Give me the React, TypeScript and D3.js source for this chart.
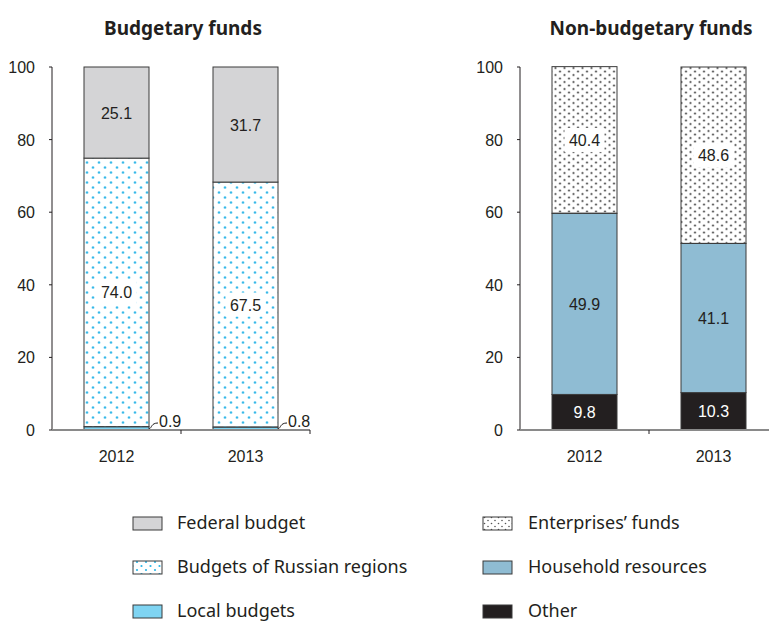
import React from "react";
import * as d3 from "d3";

const years = ["2012", "2013"];
const federal = [25.1, 31.7];
const regions = [74.0, 67.5];
const local = [0.9, 0.8];
const other = [9.8, 10.3];
const household = [49.9, 41.1];
const enterprises = [40.4, 48.6];
const yTicks = [0, 20, 40, 60, 80, 100];

const NUM_FONT = "'Liberation Sans', Arial, sans-serif";
const TXT_FONT = "'Noto Sans', 'Open Sans', sans-serif";

type Seg = { key: string; values: number[]; fill: string; label: "plain" | "box" | "white" | "leader" };

const leftSegs: Seg[] = [
  { key: "local", values: local, fill: "#7fd4f2", label: "leader" },
  { key: "regions", values: regions, fill: "url(#dotsBlue)", label: "box" },
  { key: "federal", values: federal, fill: "#d4d4d6", label: "plain" },
];
const rightSegs: Seg[] = [
  { key: "other", values: other, fill: "#231f20", label: "white" },
  { key: "household", values: household, fill: "#8fbcd3", label: "plain" },
  { key: "enterprises", values: enterprises, fill: "url(#dotsGray)", label: "box" },
];

function Panel({ x0, x1, title, segs }: { x0: number; x1: number; title: string; segs: Seg[] }) {
  const y = d3.scaleLinear().domain([0, 100]).range([430, 67]);
  const x = d3.scaleBand().domain(years).range([x0, x1]).paddingInner(0).paddingOuter(0);
  const bw = 65;
  const stack = d3.stack<any>().keys(segs.map((s) => s.key))(
    years.map((yr, i) => {
      const o: any = { year: yr };
      segs.forEach((s) => (o[s.key] = s.values[i]));
      return o;
    })
  );
  return (
    <g>
      <text x={(x0 + x1) / 2 + 2} y={35} textAnchor="middle" fontFamily={TXT_FONT} fontWeight="bold" fontSize={19} fill="#231f20">
        {title}
      </text>
      <line x1={x0} x2={x0} y1={y(100)} y2={y(0)} stroke="#231f20" strokeWidth={1} />
      {yTicks.map((t) => (
        <g key={t}>
          <line x1={x0 - 3} x2={x0} y1={y(t)} y2={y(t)} stroke="#231f20" />
          <text x={x0 - 17} y={y(t) + 6} textAnchor="end" fontFamily={NUM_FONT} fontSize={16} fill="#231f20">
            {t}
          </text>
        </g>
      ))}
      {stack.map((layer, li) =>
        layer.map((d, i) => {
          const cx = (x(years[i]) as number) + x.bandwidth() / 2;
          const top = y(d[1]);
          const h = y(d[0]) - y(d[1]);
          return (
            <rect key={segs[li].key + i} x={cx - bw / 2} y={top} width={bw} height={h} fill={segs[li].fill} stroke="#3a3a3a" strokeWidth={1} />
          );
        })
      )}
      {stack.map((layer, li) =>
        layer.map((d, i) => {
          const s = segs[li];
          const cx = (x(years[i]) as number) + x.bandwidth() / 2;
          const v = s.values[i].toFixed(1);
          if (s.label === "leader") {
            const bx = cx + bw / 2;
            return (
              <g key={"l" + s.key + i}>
                <path d={`M${bx},${y(0) - 1} C${bx + 3},${y(0) - 2} ${bx + 2},${y(0) - 7} ${bx + 9},${y(0) - 7}`} fill="none" stroke="#231f20" strokeWidth={1} />
                <text x={bx + 10} y={y(0) - 3} fontFamily={NUM_FONT} fontSize={16} fill="#231f20">
                  {v}
                </text>
              </g>
            );
          }
          const my = (y(d[0]) + y(d[1])) / 2;
          return (
            <g key={"l" + s.key + i}>
              {s.label === "box" && <rect x={cx - 20} y={my - 12} width={40} height={24} fill="#ffffff" />}
              <text x={cx} y={my + 6} textAnchor="middle" fontFamily={NUM_FONT} fontSize={16} fill={s.label === "white" ? "#ffffff" : "#231f20"}>
                {v}
              </text>
            </g>
          );
        })
      )}
      <line x1={x0} x2={x1} y1={y(0)} y2={y(0)} stroke="#8a8a8a" strokeWidth={2} />
      {years.map((yr) => (
        <g key={yr}>
          <line x1={(x(yr) as number) + x.bandwidth()} x2={(x(yr) as number) + x.bandwidth()} y1={y(0)} y2={y(0) + 4} stroke="#231f20" />
          <text x={(x(yr) as number) + x.bandwidth() / 2} y={462} textAnchor="middle" fontFamily={NUM_FONT} fontSize={16} fill="#231f20">
            {yr}
          </text>
        </g>
      ))}
    </g>
  );
}

const legendLeft = [
  { name: "Federal budget", fill: "#d4d4d6" },
  { name: "Budgets of Russian regions", fill: "url(#dotsBlueL)" },
  { name: "Local budgets", fill: "#7fd4f2" },
];
const legendRight = [
  { name: "Enterprises\u2019 funds", fill: "url(#dotsGrayL)" },
  { name: "Household resources", fill: "#8fbcd3" },
  { name: "Other", fill: "#231f20" },
];

export default function App() {
  return (
    <svg width={769} height={623} style={{ position: "absolute", left: 0, top: 0, background: "#fff" }}>
      <defs>
        <pattern id="dotsBlue" width={12} height={10} patternUnits="userSpaceOnUse">
          <circle cx={3} cy={2.5} r={1.6} fill="#a9e2f7" />
          <circle cx={9} cy={7.5} r={1.6} fill="#a9e2f7" />
          <circle cx={3} cy={2.5} r={0.9} fill="#1fb0e6" />
          <circle cx={9} cy={7.5} r={0.9} fill="#1fb0e6" />
        </pattern>
        <pattern id="dotsBlueL" width={9} height={8} patternUnits="userSpaceOnUse">
          <circle cx={2} cy={2} r={1.1} fill="#29b5e8" />
          <circle cx={6.5} cy={6} r={1.1} fill="#29b5e8" />
        </pattern>
        <pattern id="dotsGray" width={9} height={7} patternUnits="userSpaceOnUse">
          <circle cx={2} cy={1.5} r={1.5} fill="#c8c8c8" />
          <circle cx={6.5} cy={5} r={1.5} fill="#c8c8c8" />
          <circle cx={2} cy={1.5} r={0.8} fill="#444" />
          <circle cx={6.5} cy={5} r={0.8} fill="#444" />
        </pattern>
        <pattern id="dotsGrayL" width={7} height={6} patternUnits="userSpaceOnUse">
          <circle cx={1.5} cy={1.5} r={0.8} fill="#555" />
          <circle cx={5} cy={4.5} r={0.8} fill="#555" />
        </pattern>
      </defs>
      <Panel x0={52} x1={310} title="Budgetary funds" segs={leftSegs} />
      <Panel x0={520} x1={778} title="Non-budgetary funds" segs={rightSegs} />
      {legendLeft.map((l, i) => (
        <g key={l.name}>
          <rect x={133} y={517 + i * 44} width={29} height={13} fill={l.fill} stroke="#3a3a3a" strokeWidth={1} />
          <text x={177} y={529 + i * 44} fontFamily={TXT_FONT} fontSize={18} fill="#231f20">
            {l.name}
          </text>
        </g>
      ))}
      {legendRight.map((l, i) => (
        <g key={l.name}>
          <rect x={483} y={517 + i * 44} width={29} height={13} fill={l.fill} stroke="#3a3a3a" strokeWidth={1} />
          <text x={528} y={529 + i * 44} fontFamily={TXT_FONT} fontSize={18} fill="#231f20">
            {l.name}
          </text>
        </g>
      ))}
    </svg>
  );
}
